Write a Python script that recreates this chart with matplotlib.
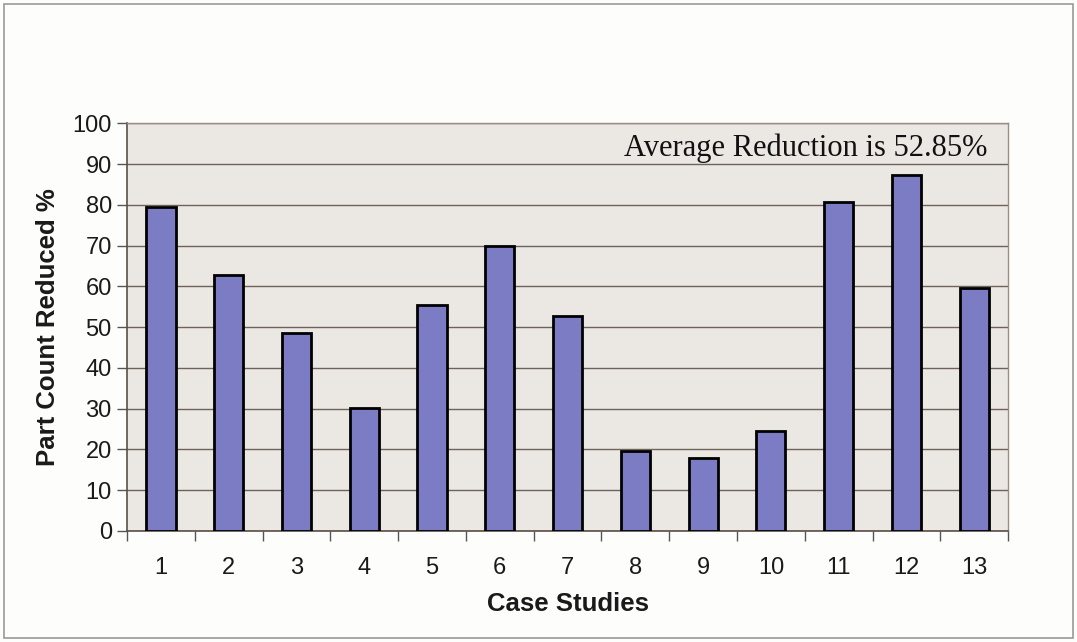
"""
Part count reduction per case study (Excel-style bar chart).
Output: out.png
"""
import matplotlib
matplotlib.use("Agg")
import matplotlib.pyplot as plt
from matplotlib.patches import Rectangle

# data
case_labels = ["1", "2", "3", "4", "5", "6", "7", "8", "9", "10", "11", "12", "13"]
part_count_reduced = [79.5, 62.7, 48.5, 30.1, 55.4, 70.0, 52.7, 19.7, 17.9, 24.6, 80.7, 87.3, 59.7]
y_ticks = [0, 10, 20, 30, 40, 50, 60, 70, 80, 90, 100]
note_text = "Average Reduction is 52.85%"

BAR_COLOR = "#7c7cc4"
PLOT_BG = "#ebe8e4"
GRID_COLOR = "#6e6259"


def main() -> None:
    fig = plt.figure(figsize=(10.77, 6.42), dpi=100)
    fig.patch.set_facecolor("#fdfdfc")
    # outer chart frame
    fig.add_artist(Rectangle((0.004, 0.006), 0.992, 0.988, transform=fig.transFigure,
                             fill=False, edgecolor="#9a9a96", lw=1.2))

    ax = fig.add_axes([0.118, 0.173, 0.818, 0.635])
    ax.set_facecolor(PLOT_BG)

    x = list(range(len(case_labels)))
    ax.bar(x, part_count_reduced, width=0.43, color=BAR_COLOR,
           edgecolor="black", linewidth=2.0, zorder=3)

    ax.set_xlim(-0.5, len(case_labels) - 0.5)
    ax.set_ylim(0, 100)
    ax.set_yticks(y_ticks)
    ax.yaxis.grid(True, color=GRID_COLOR, lw=1.0, zorder=1)
    ax.set_axisbelow(True)

    # category ticks sit between bars, labels centred under bars
    ax.set_xticks([i - 0.5 for i in range(len(case_labels) + 1)])
    ax.set_xticklabels([])
    ax.set_xticks(x, minor=True)
    ax.set_xticklabels(case_labels, minor=True)
    ax.tick_params(axis="x", which="major", length=7, width=1.0, color="#555555", direction="out")
    ax.tick_params(axis="x", which="minor", length=0, pad=19, labelsize=17)
    ax.tick_params(axis="y", length=7, width=1.0, color="#555555", direction="out",
                   labelsize=17, pad=4)
    for lab in ax.get_xticklabels(minor=True) + ax.get_yticklabels():
        lab.set_fontfamily("Liberation Sans")
        lab.set_color("#1a1a1a")

    for side in ["top", "right"]:
        ax.spines[side].set_color("#9a8f85")
        ax.spines[side].set_linewidth(1.0)
    for side in ["left", "bottom"]:
        ax.spines[side].set_color("#5a5048")
        ax.spines[side].set_linewidth(1.2)

    ax.set_xlabel("Case Studies", fontfamily="Liberation Sans", fontweight="bold",
                  fontsize=18.5, labelpad=9, color="#1a1a1a")
    ax.set_ylabel("Part Count Reduced %", fontfamily="Liberation Sans", fontweight="bold",
                  fontsize=18.5, labelpad=9, color="#1a1a1a")

    ax.text(0.977, 0.975, note_text, transform=ax.transAxes, ha="right", va="top",
            fontfamily="Liberation Serif", fontsize=22, color="#111111", zorder=4)

    fig.savefig("out.png", dpi=100, facecolor=fig.get_facecolor())
    plt.close(fig)


if __name__ == "__main__":
    main()
